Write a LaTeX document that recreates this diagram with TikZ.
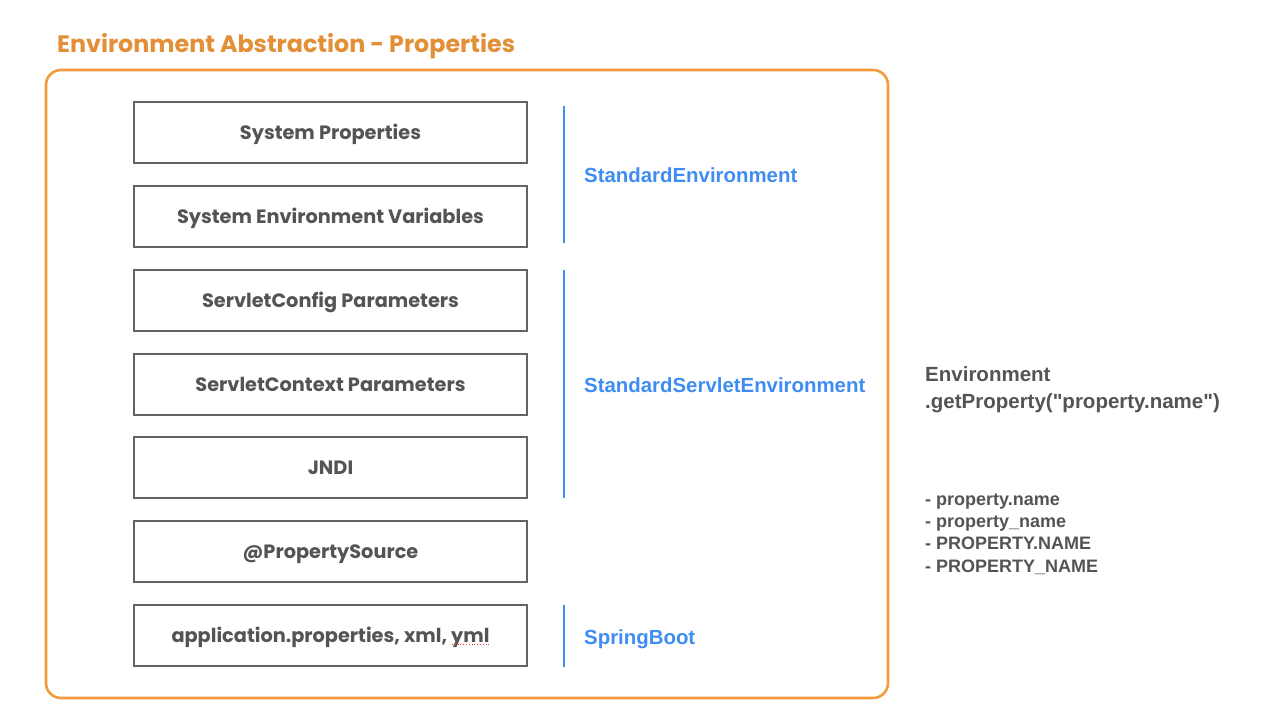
\documentclass[tikz,border=0pt]{standalone}
\usepackage{fontspec}
\setmainfont{Liberation Sans}
\newfontfamily\handfont{Poppins}
\usetikzlibrary{positioning}
\definecolor{frameorange}{HTML}{F29A3C}
\definecolor{titleorange}{HTML}{E38F38}
\definecolor{boxgray}{HTML}{636363}
\definecolor{textgray}{HTML}{545454}
\definecolor{envblue}{HTML}{3F8DF3}
\tikzset{
  srcbox/.style={draw=boxgray, line width=2.6pt, minimum width=393pt, minimum height=61pt,
    inner sep=0pt, text=textgray, font=\handfont\bfseries\fontsize{19.3}{23}\selectfont,
    text height=14pt, text depth=0pt},
  scopeline/.style={draw=envblue, line width=1.8pt},
  scopelabel/.style={anchor=base west, inner sep=0pt, text=envblue,
    font=\bfseries\fontsize{20.4}{24}\selectfont},
  notetext/.style={anchor=base west, inner sep=0pt, text=textgray, font=\bfseries},
}
\begin{document}
\begin{tikzpicture}[x=1pt, y=-1pt]
  \useasboundingbox (0,0) rectangle (1286,726);
  \fill[white] (0,0) rectangle (1286,726);

  % title and outer frame
  \node[anchor=base west, inner sep=0pt, text=titleorange,
    font=\handfont\bfseries\fontsize{23.8}{28}\selectfont] (title) at (57,52)
    {Environment Abstraction - Properties};
  \draw[frameorange, line width=2.6pt, rounded corners=15pt] (46,70) rectangle (888,698);
  \coordinate (frame) at (467,384);

  % property sources, in order of precedence
  \node[srcbox] (b1) at (330.5,132.5) {System Properties};
  \node[srcbox] (b2) at (330.5,216.5) {System Environment Variables};
  \node[srcbox] (b3) at (330.5,300.5) {ServletConfig Parameters};
  \node[srcbox] (b4) at (330.5,384.5) {ServletContext Parameters};
  \node[srcbox] (b5) at (330.5,467.5) {JNDI};
  \node[srcbox] (b6) at (330.5,551.5) {@PropertySource};
  \node[srcbox] (b7) at (330.5,635.5) {application.properties, xml, yml};
  % spell-check marker under "yml"
  \coordinate (sq1) at (452,644.5);
  \coordinate (sq2) at (489,644.5);
  \draw[red!80, line width=0.8pt, dotted] (sq1) -- (sq2);

  % environment scopes
  \coordinate (s1a) at (564,106);
  \coordinate (s1b) at (564,243);
  \coordinate (s2a) at (564,270);
  \coordinate (s2b) at (564,498);
  \coordinate (s3a) at (564,605);
  \coordinate (s3b) at (564,667);
  \draw[scopeline] (s1a) -- (s1b);
  \draw[scopeline] (s2a) -- (s2b);
  \draw[scopeline] (s3a) -- (s3b);
  \node[scopelabel] (std) at (584,182) {StandardEnvironment};
  \node[scopelabel] (servlet) at (584,392) {StandardServletEnvironment};
  \node[scopelabel] (boot) at (584,644) {SpringBoot};

  % property lookup note
  \node[notetext, font=\bfseries\fontsize{20.5}{24}\selectfont] (n1) at (925,381) {Environment};
  \node[notetext, font=\bfseries\fontsize{20.5}{24}\selectfont] (n2) at (925,408)
    {.getProperty(\textquotedbl property.name\textquotedbl)};
  \node[notetext, font=\bfseries\fontsize{18}{21}\selectfont] (k1) at (925,505) {- property.name};
  \node[notetext, font=\bfseries\fontsize{18}{21}\selectfont] (k2) at (925,527) {- property\_name};
  \node[notetext, font=\bfseries\fontsize{18}{21}\selectfont] (k3) at (925,549) {- PROPERTY.NAME};
  \node[notetext, font=\bfseries\fontsize{18}{21}\selectfont] (k4) at (925,572) {- PROPERTY\_NAME};
\end{tikzpicture}
\end{document}
